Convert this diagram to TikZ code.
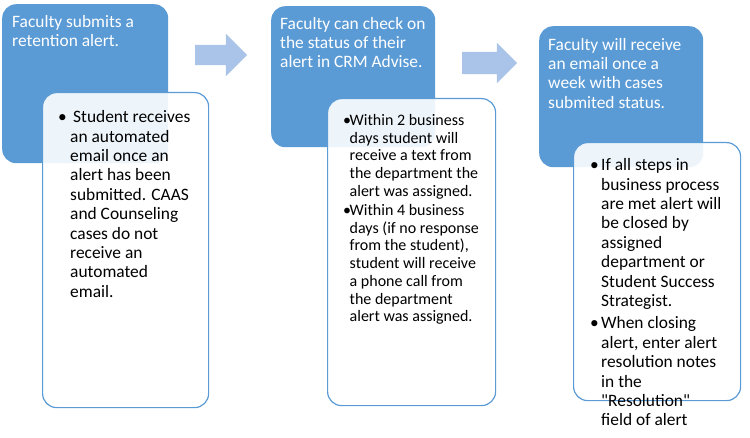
\documentclass[tikz,border=0pt]{standalone}
\usepackage{fontspec}
\setmainfont{Carlito}
\usetikzlibrary{positioning,shapes.arrows}
\definecolor{stepblue}{HTML}{5B9BD5}
\definecolor{arrowblue}{HTML}{A9C4E8}

\begin{document}
\begin{tikzpicture}[x=1pt,y=-1pt,
    stepbox/.style={fill=stepblue, rounded corners=14pt, anchor=north west, inner sep=0pt},
    notebox/.style={draw=stepblue, line width=1.2pt, fill=white, fill opacity=0.9, rounded corners=14pt, anchor=north west, inner sep=0pt},
    steptext/.style={text=white, align=left, inner sep=0pt, font=\fontsize{17.4}{19.3}\selectfont},
    notetext/.style={align=left, inner sep=0pt, font=\fontsize{17.4}{19.4}\selectfont},
    flow/.style={single arrow, fill=arrowblue, single arrow head extend=11pt, inner ysep=10pt, inner xsep=0pt, minimum height=52pt}]
    \useasboundingbox (0,0) rectangle (750,438);

    % first step
    \node[stepbox, minimum width=166pt, minimum height=159pt] (step1) at (2,4) {};
    \node[steptext, below right=11pt and 10pt of step1.north west] (step1t) {Faculty submits a\\retention alert.};
    \node[notebox, minimum width=166pt, minimum height=315pt] (note1) at (42,92) {};
    \node[notetext, below right=17pt and 16pt of note1.north west] (note1t) {\begin{tabular}{@{}p{12pt}@{}l@{}}
        \textbullet & \hspace{3pt}Student receives\\
        & an automated\\ & email once an\\ & alert has been\\ & submitted. CAAS\\
        & and Counseling\\ & cases do not\\ & receive an\\ & automated\\ & email.
    \end{tabular}};

    \node[flow] (arr1) at (216,55) {};

    % second step
    \node[stepbox, minimum width=164pt, minimum height=141pt] (step2) at (271,6) {};
    \node[steptext, below right=11pt and 9pt of step2.north west] (step2t) {Faculty can check on\\the status of their\\alert in CRM Advise.};
    \node[notebox, minimum width=168pt, minimum height=307pt] (note2) at (327,98) {};
    \node[notetext, font=\fontsize{16}{17.7}\selectfont, below right=15pt and 16pt of note2.north west] (note2t) {\begin{tabular}{@{}p{6.5pt}@{}l@{}}
        \textbullet & Within 2 business\\ & days student will\\ & receive a text from\\ & the department the\\ & alert was assigned.\\[1.5pt]
        \textbullet & Within 4 business\\ & days (if no response\\ & from the student),\\ & student will receive\\ & a phone call from\\ & the department\\ & alert was assigned.
    \end{tabular}};

    \node[flow, inner ysep=11pt, single arrow head extend=9pt, minimum height=55pt] (arr2) at (484,63) {};

    % third step
    \node[stepbox, minimum width=164pt, minimum height=141pt] (step3) at (539,26) {};
    \node[steptext, below right=12pt and 9pt of step3.north west] (step3t) {Faculty will receive\\an email once a\\week with cases\\submited status.};
    \node[notebox, minimum width=167pt, minimum height=258pt] (note3) at (573,142) {};
    \node[notetext, below right=15pt and 17pt of note3.north west] (note3t) {\begin{tabular}{@{}p{11pt}@{}l@{}}
        \textbullet & If all steps in\\ & business process\\ & are met alert will\\ & be closed by\\ & assigned\\ & department or\\ & Student Success\\ & Strategist.\\[3pt]
        \textbullet & When closing\\ & alert, enter alert\\ & resolution notes\\ & in the\\ & \textquotedbl Resolution\textquotedbl\\ & field of alert
    \end{tabular}};
\end{tikzpicture}
\end{document}
